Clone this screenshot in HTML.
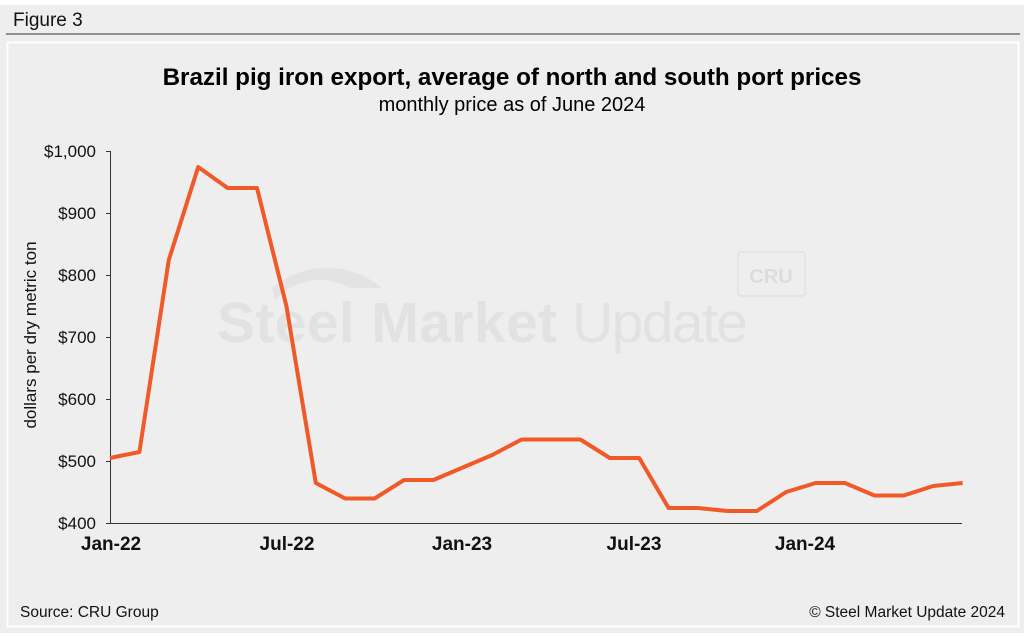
<!DOCTYPE html>
<html><head><meta charset="utf-8"><style>
html,body{margin:0;padding:0;background:#fff;}
body{width:1024px;height:633px;overflow:hidden;position:relative;font-family:"Liberation Sans",sans-serif;}
</style></head><body>
<svg width="1024" height="633" xmlns="http://www.w3.org/2000/svg" font-family="Liberation Sans, sans-serif">
<rect x="0" y="5" width="1024" height="628" fill="#eeeeee"/>
<text x="13" y="26" font-size="19" fill="#111">Figure 3</text>
<line x1="6" y1="34" x2="1020" y2="34" stroke="#333" stroke-width="1"/>
<rect x="7.5" y="42.5" width="1011" height="584" fill="#eeeeee" stroke="#fff" stroke-width="2"/>
<text x="512" y="85" font-size="24.2" font-weight="bold" text-anchor="middle" fill="#000">Brazil pig iron export, average of north and south port prices</text>
<text x="512" y="111" font-size="20" text-anchor="middle" fill="#000">monthly price as of June 2024</text>
<g>
<path d="M272 288 A85 85 0 0 1 382 288 L350 288 A60 60 0 0 0 275 300 Z" fill="#e3e3e3"/>
<text x="217" y="342" font-size="57" font-weight="bold" fill="#e2e2e2" textLength="340">Steel Market</text>
<text x="572" y="342" font-size="57" fill="#e2e2e2" textLength="176">Update</text>
<rect x="738" y="252" width="67" height="44" rx="3" fill="none" stroke="#e0e0e0" stroke-width="1.5"/>
<text x="771" y="283" font-size="20" font-weight="bold" text-anchor="middle" fill="#dcdcdc">CRU</text>
</g>
<line x1="110.5" y1="151" x2="110.5" y2="523" stroke="#333" stroke-width="1"/>
<line x1="110" y1="523.5" x2="962" y2="523.5" stroke="#333" stroke-width="1"/>
<g stroke="#333" stroke-width="1">
<line x1="106" y1="151.5" x2="110" y2="151.5"/>
<line x1="106" y1="213.5" x2="110" y2="213.5"/>
<line x1="106" y1="275.5" x2="110" y2="275.5"/>
<line x1="106" y1="337.5" x2="110" y2="337.5"/>
<line x1="106" y1="399.5" x2="110" y2="399.5"/>
<line x1="106" y1="461.5" x2="110" y2="461.5"/>
<line x1="106" y1="523.5" x2="110" y2="523.5"/>
</g>
<g font-size="17" text-anchor="end" fill="#111">
<text x="96" y="157">$1,000</text>
<text x="96" y="219">$900</text>
<text x="96" y="281">$800</text>
<text x="96" y="343">$700</text>
<text x="96" y="405">$600</text>
<text x="96" y="467">$500</text>
<text x="96" y="529">$400</text>
</g>
<text transform="translate(36,335) rotate(-90)" font-size="17" text-anchor="middle" fill="#111">dollars per dry metric ton</text>
<g font-size="19" font-weight="bold" text-anchor="middle" fill="#111">
<text x="111" y="550">Jan-22</text>
<text x="287" y="550">Jul-22</text>
<text x="462" y="550">Jan-23</text>
<text x="634" y="550">Jul-23</text>
<text x="805" y="550">Jan-24</text>
</g>
<polyline fill="none" stroke="#f05a28" stroke-width="4" stroke-linejoin="round" points="110,458 139.4,452 168.8,260 198.2,167 227.6,188 257,188 286.4,306 315.8,483 345.2,498.5 374.6,498.5 404,480 433.4,480 462.8,467.5 492.2,455 521.6,439.5 551,439.5 580.4,439.5 609.8,458 639.2,458 668.6,508 698,508 727.4,511 756.8,511 786.2,492 815.6,483 845,483 874.4,495.5 903.8,495.5 933.2,486 962.6,483"/>
<text x="20" y="617" font-size="15.5" fill="#111">Source: CRU Group</text>
<text x="1005" y="617" font-size="15.5" text-anchor="end" fill="#111">© Steel Market Update 2024</text>
</svg>
</body></html>
